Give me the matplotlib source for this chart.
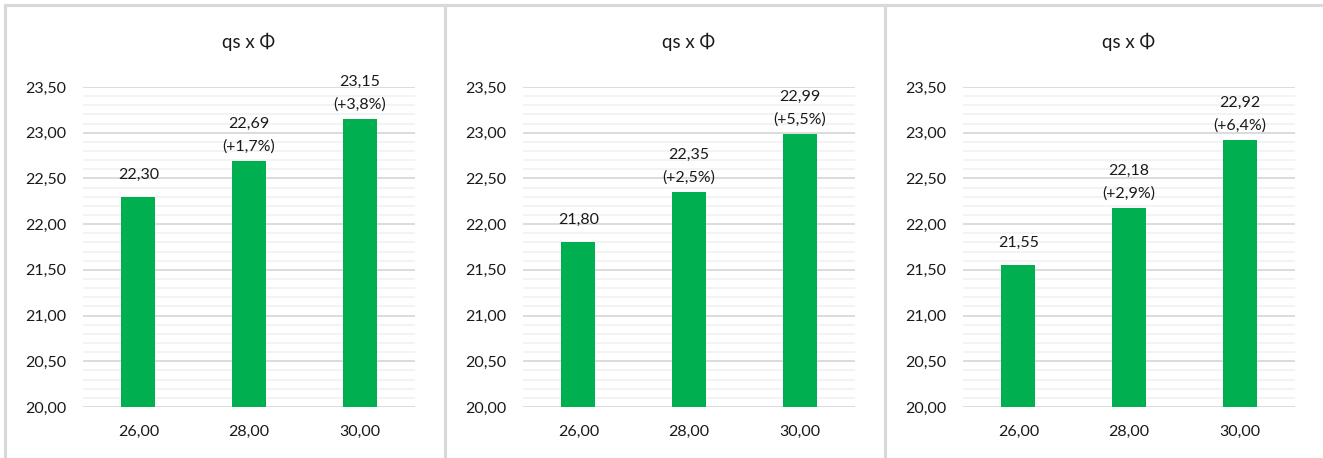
import matplotlib
matplotlib.use("Agg")
import matplotlib.pyplot as plt
from matplotlib.lines import Line2D
from matplotlib.ticker import MultipleLocator, FuncFormatter

plt.rcParams['font.family'] = ['Lato', 'DejaVu Sans']

categories = ["26,00", "28,00", "30,00"]
title = "qs x Φ"

values_1 = [22.30, 22.69, 23.15]
values_2 = [21.80, 22.35, 22.99]
values_3 = [21.55, 22.18, 22.92]
pct_1 = ["", "+1,7%", "+3,8%"]
pct_2 = ["", "+2,5%", "+5,5%"]
pct_3 = ["", "+2,9%", "+6,4%"]

GREEN = "#00B050"
W, H = 1323, 458

fig = plt.figure(figsize=(W / 100, H / 100), dpi=100)

# panel frames (Excel chart borders)
border = "#D9D9D9"
for xp in [5, 445, 885]:
    fig.add_artist(Line2D([xp / W, xp / W], [0, 1 - 5 / H], color=border, lw=2.2,
                          transform=fig.transFigure))
fig.add_artist(Line2D([5 / W, 1], [1 - 5 / H, 1 - 5 / H], color=border, lw=2.2,
                      transform=fig.transFigure))


def fmt(v, pos=None):
    return f"{v:.2f}".replace(".", ",")


panels = [(83, values_1, pct_1), (523, values_2, pct_2), (963, values_3, pct_3)]
for left, vals, pcts in panels:
    ax = fig.add_axes([left / W, 1 - 407 / H, 332 / W, 320 / H])
    x = range(len(categories))
    ax.bar(x, [v - 20 for v in vals], bottom=20, width=0.31, color=GREEN, zorder=3)
    ax.set_xlim(-0.5, 2.5)
    ax.set_ylim(20, 23.5)
    ax.yaxis.set_major_locator(MultipleLocator(0.5))
    ax.yaxis.set_minor_locator(MultipleLocator(0.1))
    ax.yaxis.set_major_formatter(FuncFormatter(fmt))
    ax.grid(which="major", axis="y", color="#D9D9D9", lw=1.3, zorder=0)
    ax.grid(which="minor", axis="y", color="#F2F2F2", lw=1.3, zorder=0)
    for s in ax.spines.values():
        s.set_visible(False)
    ax.tick_params(axis="both", which="both", length=0, labelsize=11.5, colors="#1a1a1a")
    ax.tick_params(axis="y", pad=12)
    ax.tick_params(axis="x", pad=13)
    ax.set_xticks(list(x))
    ax.set_xticklabels(categories)
    for i, v in enumerate(vals):
        if pcts[i]:
            ax.annotate(fmt(v) + "\n(" + pcts[i] + ")", (i, v), xytext=(0, 5),
                        textcoords="offset points", ha="center", va="bottom",
                        fontsize=11.5, color="#1a1a1a", linespacing=1.75)
        else:
            ax.annotate(fmt(v), (i, v), xytext=(0, 11), textcoords="offset points",
                        ha="center", va="bottom", fontsize=11.5, color="#1a1a1a")
    fig.text((left + 166) / W, 1 - 42 / H, title, ha="center", va="center",
             fontsize=13.5, color="#1a1a1a")

fig.savefig("out.png", dpi=100)
